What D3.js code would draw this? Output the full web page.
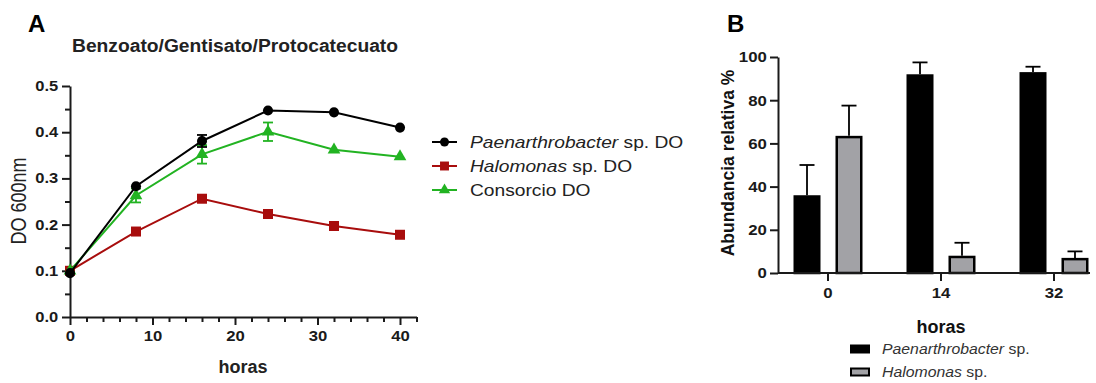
<!DOCTYPE html>
<html><head><meta charset="utf-8">
<script src="https://cdn.jsdelivr.net/npm/d3@7"></script>
<style>
body{margin:0;background:#fff}
svg{display:block;font-family:"Liberation Sans",Arial,sans-serif}
</style>
</head><body>
<svg id="c" width="1096" height="383"></svg>
<script>
// ---------- Data: panel A ----------
const hours = [0, 8, 16, 24, 32, 40];
const paenDO = [0.095, 0.283, 0.381, 0.447, 0.443, 0.410];
const paenErr = [0, 0, 0.013, 0, 0, 0];
const haloDO = [0.100, 0.185, 0.256, 0.223, 0.197, 0.178];
const haloErr = [0, 0, 0, 0, 0, 0];
const consDO = [0.100, 0.263, 0.352, 0.401, 0.362, 0.347];
const consErr = [0, 0.015, 0.020, 0.020, 0, 0];
const yTicksA = [0, 0.1, 0.2, 0.3, 0.4, 0.5];
const xTicksA = [0, 10, 20, 30, 40];
const seriesNamesA = ["Paenarthrobacter", "Halomonas", "Consorcio"];
const seriesSuffixA = [" sp. DO", " sp. DO", " DO"];

// ---------- Data: panel B ----------
const timesB = ["0", "14", "32"];
const paenAb = [36, 92, 93];
const paenAbErr = [14, 5.5, 2.5];
const haloAb = [63.5, 8, 7];
const haloAbErr = [14, 6, 3];
const yTicksB = [0, 20, 40, 60, 80, 100];
const seriesNamesB = ["Paenarthrobacter", "Halomonas"];

const svg = d3.select("#c");
const ink = "#1a1a1a";

function styleAxis(ax, size, sx) {
  ax.select(".domain").attr("stroke", ink).attr("stroke-width", 2);
  ax.selectAll(".tick line").attr("stroke", ink).attr("stroke-width", 2);
  ax.selectAll(".tick text").attr("fill", ink).attr("font-size", size).attr("font-weight", "bold")
    .attr("font-family", "'Liberation Sans',Arial,sans-serif")
    .attr("transform", `scale(${sx},1)`);
}

// =============== PANEL A ===============
const xA = d3.scaleLinear().domain([0, 42]).range([70, 416.5]);
const yA = d3.scaleLinear().domain([0, 0.5]).range([317, 86]);
const gA = svg.append("g");

// minor ticks
gA.append("g").attr("transform", "translate(70,0)")
  .call(d3.axisLeft(yA).tickValues(d3.range(0.05, 0.5, 0.1)).tickSize(5).tickFormat(""))
  .call(g => g.select(".domain").remove())
  .call(g => g.selectAll("line").attr("stroke", ink).attr("stroke-width", 2));
gA.append("g").attr("transform", "translate(0,317)")
  .call(d3.axisBottom(xA).tickValues(d3.range(2, 43, 2).filter(v => v % 10 !== 0)).tickSize(5).tickFormat(""))
  .call(g => g.select(".domain").remove())
  .call(g => g.selectAll("line").attr("stroke", ink).attr("stroke-width", 2));

const yAxA = gA.append("g").attr("transform", "translate(70,0)")
  .call(d3.axisLeft(yA).tickValues(yTicksA).tickFormat(d3.format(".1f")).tickSize(8).tickSizeOuter(0).tickPadding(2));
const xAxA = gA.append("g").attr("transform", "translate(0,317)")
  .call(d3.axisBottom(xA).tickValues(xTicksA).tickFormat(d3.format("d")).tickSize(8).tickSizeOuter(0).tickPadding(6));
styleAxis(yAxA, 14, 1.18);
styleAxis(xAxA, 14, 1.18);
xAxA.selectAll(".tick text").attr("transform", null).attr("font-size", 14.5).attr("textLength", null);
xAxA.selectAll(".tick text").each(function(){ d3.select(this).attr("transform", "scale(1.15,1)"); });

const seriesA = [
  {vals: paenDO, err: paenErr, color: "#000000", shape: d3.symbolCircle, size: 80},
  {vals: haloDO, err: haloErr, color: "#a80d0d", shape: d3.symbolSquare, size: 100},
  {vals: consDO, err: consErr, color: "#22b322", shape: d3.symbolTriangle, size: 70}
];
const lineA = d3.line().x(d => xA(d[0])).y(d => yA(d[1]));
// draw order: red, green, black on top
[1, 2, 0].forEach(i => {
  const s = seriesA[i];
  const pts = hours.map((h, j) => [h, s.vals[j], s.err[j]]);
  const g = gA.append("g");
  g.append("path").datum(pts).attr("d", lineA).attr("fill", "none")
    .attr("stroke", s.color).attr("stroke-width", 2);
  pts.filter(p => p[2] > 0).forEach(p => {
    const x = xA(p[0]), y1 = yA(p[1] - p[2]), y2 = yA(p[1] + p[2]);
    g.append("line").attr("x1", x).attr("x2", x).attr("y1", y1).attr("y2", y2).attr("stroke", s.color).attr("stroke-width", 1.8);
    [y1, y2].forEach(y => g.append("line").attr("x1", x - 5).attr("x2", x + 5).attr("y1", y).attr("y2", y).attr("stroke", s.color).attr("stroke-width", 1.8));
  });
  g.selectAll("path.m").data(pts).join("path").attr("class", "m")
    .attr("transform", p => `translate(${xA(p[0])},${yA(p[1])})`)
    .attr("d", d3.symbol().type(s.shape).size(s.size)).attr("fill", s.color);
});

// Title / labels A
svg.append("text").attr("x", 28).attr("y", 32).attr("font-size", 24).attr("font-weight", "bold").attr("fill", "#000").text("A");
svg.append("text").attr("x", 235).attr("y", 52).attr("text-anchor", "middle").attr("font-size", 18)
  .attr("font-weight", "bold").attr("fill", "#222").attr("textLength", 326).attr("lengthAdjust", "spacingAndGlyphs")
  .text("Benzoato/Gentisato/Protocatecuato");
svg.append("text").attr("transform", "translate(26,201) rotate(-90) scale(1,1.2)").attr("text-anchor", "middle")
  .attr("font-size", 18).attr("fill", "#222").text("DO 600nm");
svg.append("text").attr("x", 243).attr("y", 373).attr("text-anchor", "middle").attr("font-size", 18)
  .attr("font-weight", "bold").attr("fill", "#222").text("horas");

// Legend A
seriesA.forEach((s, i) => {
  const y = 142 + i * 24;
  const g = svg.append("g");
  g.append("line").attr("x1", 432).attr("x2", 457).attr("y1", y).attr("y2", y).attr("stroke", s.color).attr("stroke-width", 2);
  g.append("path").attr("transform", `translate(444.5,${y})`).attr("d", d3.symbol().type(s.shape).size(s.size * 0.8)).attr("fill", s.color);
  const t = g.append("text").attr("transform", `translate(470,${y + 6}) scale(1.2,1)`).attr("font-size", 16).attr("fill", "#222");
  if (i < 2) t.append("tspan").attr("font-style", "italic").text(seriesNamesA[i]);
  else t.append("tspan").text(seriesNamesA[i]);
  t.append("tspan").text(seriesSuffixA[i]);
});

// =============== PANEL B ===============
const xB = d3.scaleBand().domain(timesB).range([771.5, 1110.5]).paddingInner(0).paddingOuter(0);
const keysB = ["paen", "halo"];
const xB1 = d3.scaleBand().domain(keysB).range([0, xB.bandwidth()]).paddingInner(0.357).paddingOuter(0.524);
const yB = d3.scaleLinear().domain([0, 100]).range([273, 57]);
const gB = svg.append("g");

const barData = [];
timesB.forEach((t, i) => {
  barData.push({t, k: "paen", v: paenAb[i], e: paenAbErr[i], fill: "#000000"});
  barData.push({t, k: "halo", v: haloAb[i], e: haloAbErr[i], fill: "#a2a2a6"});
});
// error bars (above only)
barData.forEach(d => {
  const cx = xB(d.t) + xB1(d.k) + xB1.bandwidth() / 2;
  gB.append("line").attr("x1", cx).attr("x2", cx).attr("y1", yB(d.v)).attr("y2", yB(d.v + d.e)).attr("stroke", "#000").attr("stroke-width", 1.8);
  gB.append("line").attr("x1", cx - 7.5).attr("x2", cx + 7.5).attr("y1", yB(d.v + d.e)).attr("y2", yB(d.v + d.e)).attr("stroke", "#000").attr("stroke-width", 1.8);
});
gB.selectAll("rect.bar").data(barData).join("rect").attr("class", "bar")
  .attr("x", d => xB(d.t) + xB1(d.k) + 1.25)
  .attr("width", xB1.bandwidth() - 2.5)
  .attr("y", d => yB(d.v) + 1.25)
  .attr("height", d => yB(0) - yB(d.v) - 1.25)
  .attr("fill", d => d.fill).attr("stroke", "#000").attr("stroke-width", 2.5);

const yAxB = gB.append("g").attr("transform", "translate(778,0)")
  .call(d3.axisLeft(yB).tickValues(yTicksB).tickSize(8).tickSizeOuter(0).tickPadding(2));
const xAxB = gB.append("g").attr("transform", "translate(0,273)")
  .call(d3.axisBottom(xB).tickSize(8).tickSizeOuter(0).tickPadding(6));
xAxB.select(".domain").attr("d", "M778,0H1090");
styleAxis(yAxB, 15, 1.12);
styleAxis(xAxB, 15, 1.12);

svg.append("text").attr("x", 727).attr("y", 32).attr("font-size", 24).attr("font-weight", "bold").attr("fill", "#000").text("B");
svg.append("text").attr("transform", "translate(734,163) rotate(-90)").attr("text-anchor", "middle")
  .attr("font-size", 17.5).attr("font-weight", "bold").attr("fill", "#111").text("Abundancia relativa %");
svg.append("text").attr("x", 941).attr("y", 333).attr("text-anchor", "middle").attr("font-size", 18)
  .attr("font-weight", "bold").attr("fill", "#111").text("horas");

// Legend B
seriesNamesB.forEach((name, i) => {
  const y = 349 + i * 23;
  svg.append("rect").attr("x", 851).attr("y", y - 3.5).attr("width", 18).attr("height", 7)
    .attr("fill", i === 0 ? "#000" : "#a2a2a6").attr("stroke", "#000").attr("stroke-width", 2);
  const t = svg.append("text").attr("transform", `translate(882,${y + 5}) scale(1.13,1)`).attr("font-size", 14).attr("fill", "#333");
  t.append("tspan").attr("font-style", "italic").text(name);
  t.append("tspan").text(" sp.");
});
</script>
</body></html>
